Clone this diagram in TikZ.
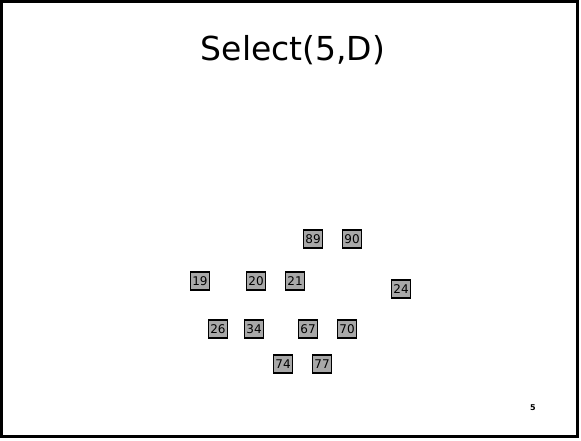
\documentclass[tikz,border=0pt]{standalone}
\usepackage{fontspec}
\setmainfont{DejaVu Sans}
\usetikzlibrary{positioning}
\definecolor{keyCol}{HTML}{A8A8A8}
\tikzset{
  keybox/.style={draw=black, fill=keyCol, line width=1.3pt, inner sep=0pt,
        minimum width=19pt, minimum height=18pt, font=\fontsize{12}{12}\selectfont},
  slideframe/.style={draw=black, line width=2.5pt},
}
\begin{document}
\begin{tikzpicture}[x=1pt,y=-1pt]
  \useasboundingbox (0,0) rectangle (581,441);
  \draw[slideframe] (1.5,1.5) rectangle (577.5,436.5);
  \node[font=\fontsize{33}{33}\selectfont] (title) at (293,50) {Select(5,D)};
  % upper row
  \node[keybox] (k89) at (313,239) {89};
  \node[keybox] (k90) at (352,239) {90};
  % middle row
  \node[keybox] (k19) at (200,281) {19};
  \node[keybox] (k20) at (256,281) {20};
  \node[keybox] (k21) at (295,281) {21};
  \node[keybox] (k24) at (401,289) {24};
  % lower rows
  \node[keybox] (k26) at (218,329) {26};
  \node[keybox] (k34) at (254,329) {34};
  \node[keybox] (k67) at (308,329) {67};
  \node[keybox] (k70) at (347,329) {70};
  \node[keybox] (k74) at (283,364) {74};
  \node[keybox] (k77) at (322,364) {77};
  \node[font=\fontsize{8}{8}\selectfont\bfseries] (page) at (533,408) {5};
\end{tikzpicture}
\end{document}
